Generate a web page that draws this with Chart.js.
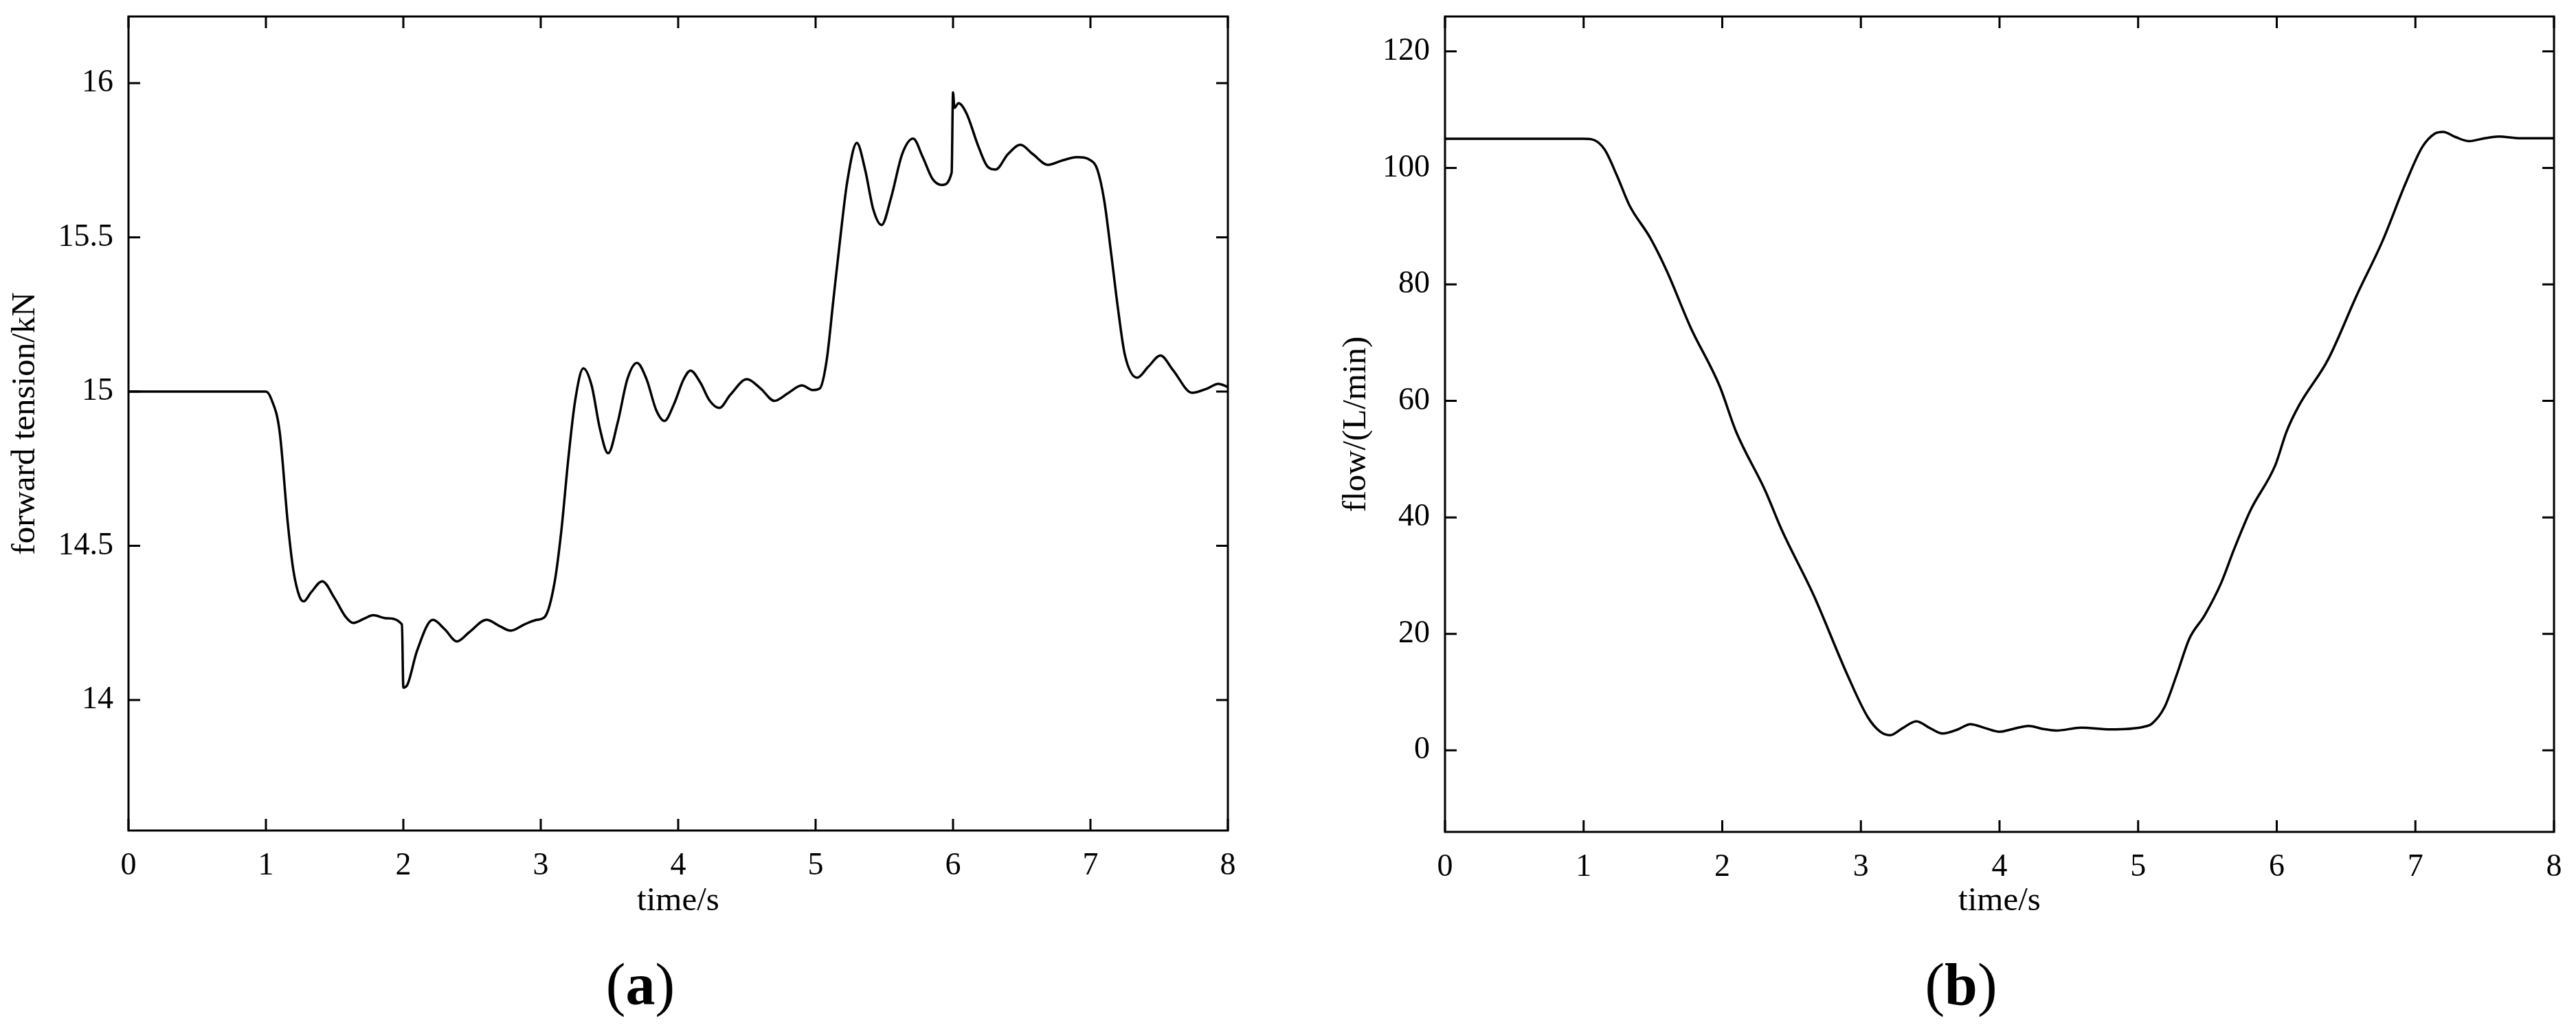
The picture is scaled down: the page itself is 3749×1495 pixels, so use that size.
<!DOCTYPE html>
<html>
<head>
<meta charset="utf-8">
<script src="https://cdn.jsdelivr.net/npm/chart.js@4.4.1/dist/chart.umd.min.js"></script>
<style>
  html, body { margin: 0; padding: 0; background: #fff; }
  body { width: 3749px; height: 1495px; position: relative; overflow: hidden; }
  canvas { position: absolute; top: 0; }
  #chartA { left: 0; }
  #chartB { left: 1875px; }
</style>
</head>
<body>
<canvas id="chartA" width="1875" height="1495"></canvas>
<canvas id="chartB" width="1874" height="1495"></canvas>
<script>
// (a) forward tension
const timeA = [0, 0.5, 1.0, 1.04, 1.10, 1.16, 1.20, 1.245, 1.275, 1.33, 1.41, 1.50, 1.58, 1.635,
  1.72, 1.78, 1.88, 1.99, 2.0, 2.03, 2.10, 2.215, 2.30, 2.39, 2.48, 2.605, 2.70, 2.78, 2.88,
  2.97, 3.03, 3.10, 3.15, 3.20, 3.25, 3.31, 3.37, 3.43, 3.49, 3.56, 3.63, 3.70, 3.77, 3.84,
  3.90, 3.97, 4.04, 4.09, 4.16, 4.23, 4.30, 4.38, 4.50, 4.60, 4.70, 4.80, 4.90, 4.98, 5.03,
  5.08, 5.13, 5.18, 5.23, 5.30, 5.36, 5.42, 5.48, 5.55, 5.63, 5.71, 5.78, 5.85, 5.92, 5.99,
  6.0, 6.01, 6.04, 6.10, 6.18, 6.25, 6.31, 6.40, 6.49, 6.58, 6.69, 6.80, 6.90, 7.00, 7.05,
  7.10, 7.15, 7.20, 7.25, 7.34, 7.42, 7.51, 7.60, 7.74, 7.85, 7.93, 8.0];
const tensionA = [15.0, 15.0, 15.0, 14.975, 14.87, 14.57, 14.42, 14.335, 14.32, 14.35, 14.385, 14.33, 14.27, 14.25,
  14.265, 14.275, 14.265, 14.245, 14.04, 14.05, 14.16, 14.26, 14.23, 14.19, 14.22, 14.26, 14.24, 14.225, 14.245,
  14.26, 14.27, 14.38, 14.55, 14.78, 14.97, 15.075, 15.02, 14.88, 14.80, 14.90, 15.04, 15.093, 15.04, 14.94,
  14.905, 14.96, 15.04, 15.068, 15.03, 14.97, 14.947, 14.99, 15.04, 15.01, 14.97, 14.995, 15.02, 15.005, 15.01,
  15.10, 15.30, 15.50, 15.68, 15.806, 15.72, 15.59, 15.54, 15.63, 15.77, 15.82, 15.76, 15.69, 15.67, 15.71,
  15.97, 15.92, 15.935, 15.90, 15.80, 15.73, 15.72, 15.77, 15.80, 15.77, 15.735, 15.75, 15.76, 15.75, 15.72,
  15.62, 15.45, 15.27, 15.12, 15.045, 15.08, 15.117, 15.07, 14.996, 15.01, 15.025, 15.015];

// (b) flow
const timeB = [0, 0.5, 1.0, 1.06, 1.15, 1.24, 1.33, 1.48, 1.60, 1.77, 1.98, 2.10, 2.31, 2.43, 2.66,
  2.90, 3.05, 3.14, 3.21, 3.30, 3.40, 3.50, 3.59, 3.70, 3.79, 3.90, 4.00, 4.10, 4.21, 4.31,
  4.41, 4.59, 4.80, 5.04, 5.10, 5.19, 5.28, 5.37, 5.48, 5.60, 5.69, 5.81, 5.99, 6.07, 6.16,
  6.37, 6.58, 6.76, 6.93, 7.05, 7.14, 7.20, 7.29, 7.385, 7.50, 7.60, 7.76, 8.0];
const flowB = [105, 105, 105, 104.9, 103.2, 98.7, 93.6, 88, 82.3, 72.7, 62.6, 54.7, 44.6, 37.8, 26.6,
  13.1, 5.7, 3.2, 2.6, 3.8, 5.0, 3.8, 2.9, 3.6, 4.5, 3.8, 3.2, 3.7, 4.2, 3.7,
  3.4, 3.9, 3.6, 4.05, 4.6, 7.4, 13.1, 19.2, 23.2, 28.8, 34.4, 41.2, 49.0, 54.7, 59.2,
  67.1, 78.3, 87.3, 97.4, 103.6, 105.9, 106.2, 105.3, 104.6, 105.1, 105.4, 105.1, 105.1];

const tensionTicks = [14, 14.5, 15, 15.5, 16];
const flowTicks = [0, 20, 40, 60, 80, 100, 120];

Chart.defaults.font.family = "'Liberation Serif', 'Times New Roman', serif";
Chart.defaults.color = '#000';

const TICK_LEN = 17;

// box frame, inward ticks on all sides, and the (a)/(b) caption
const framePlugin = {
  id: 'frame',
  afterDraw(chart, args, opts) {
    const { ctx, chartArea: a, scales: { x, y } } = chart;
    ctx.save();
    ctx.strokeStyle = '#000';
    ctx.lineWidth = 3;
    ctx.strokeRect(a.left, a.top, a.right - a.left, a.bottom - a.top);
    ctx.beginPath();
    x.ticks.forEach(t => {
      const px = x.getPixelForValue(t.value);
      ctx.moveTo(px, a.bottom); ctx.lineTo(px, a.bottom - TICK_LEN);
      ctx.moveTo(px, a.top); ctx.lineTo(px, a.top + TICK_LEN);
    });
    y.ticks.forEach(t => {
      const py = y.getPixelForValue(t.value);
      ctx.moveTo(a.left, py); ctx.lineTo(a.left + TICK_LEN, py);
      ctx.moveTo(a.right, py); ctx.lineTo(a.right - TICK_LEN, py);
    });
    ctx.stroke();

    // caption like "(a)" with a bold letter
    const size = 86;
    const fam = Chart.defaults.font.family;
    const parts = [['(', 'normal'], [opts.letter, 'bold'], [')', 'normal']];
    let total = 0;
    parts.forEach(p => { ctx.font = p[1] + ' ' + size + 'px ' + fam; p.push(ctx.measureText(p[0]).width); total += p[2]; });
    let cx = opts.cx - total / 2;
    ctx.fillStyle = '#000';
    ctx.textBaseline = 'alphabetic';
    parts.forEach(p => { ctx.font = p[1] + ' ' + size + 'px ' + fam; ctx.fillText(p[0], cx, opts.cy); cx += p[2]; });
    ctx.restore();
  }
};

function makeChart(id, xs, ys, cfg) {
  const points = xs.map((t, i) => ({ x: t, y: ys[i] }));
  return new Chart(document.getElementById(id), {
    type: 'line',
    data: {
      datasets: [{
        data: points,
        borderColor: '#000',
        borderWidth: 3.5,
        pointRadius: 0,
        fill: false,
        cubicInterpolationMode: 'monotone'
      }]
    },
    options: {
      responsive: false,
      animation: false,
      events: [],
      layout: { padding: { left: 0, top: cfg.top, right: cfg.padRight, bottom: 0 } },
      plugins: {
        legend: { display: false },
        tooltip: { enabled: false },
        frame: { letter: cfg.letter, cx: cfg.capX, cy: 1462 }
      },
      scales: {
        x: {
          type: 'linear',
          min: 0,
          max: 8,
          grid: { display: false, drawTicks: false },
          border: { display: false },
          ticks: { stepSize: 1, padding: 24, font: { size: 46 }, color: '#000' },
          title: { display: true, text: 'time/s', font: { size: 49 }, color: '#000', padding: { top: 0, bottom: 153 } },
          afterFit(scale) {
            scale.height = 1495 - cfg.bottom;
            scale.paddingLeft = 0; scale.paddingRight = 0;
          }
        },
        y: {
          type: 'linear',
          min: cfg.yMin,
          max: cfg.yMax,
          grid: { display: false, drawTicks: false },
          border: { display: false },
          afterBuildTicks(scale) { scale.ticks = cfg.ticks.map(v => ({ value: v })); },
          ticks: { padding: 22, font: { size: 46 }, color: '#000', callback: v => String(v) },
          title: { display: true, text: cfg.yTitle, font: { size: 49 }, color: '#000', padding: { top: cfg.titlePad, bottom: 0 } },
          afterFit(scale) {
            scale.width = cfg.yWidth;
            scale.paddingTop = 0; scale.paddingBottom = 0;
          }
        }
      }
    },
    plugins: [framePlugin]
  });
}

makeChart('chartA', timeA, tensionA, {
  letter: 'a', capX: 932, top: 24, padRight: 88, bottom: 1209, yWidth: 187,
  yMin: 13.577, yMax: 16.216, ticks: tensionTicks,
  yTitle: 'forward tension/kN', titlePad: 8
});

makeChart('chartB', timeB, flowB, {
  letter: 'b', capX: 979, top: 24, padRight: 32, bottom: 1211, yWidth: 228,
  yMin: -14, yMax: 126, ticks: flowTicks,
  yTitle: 'flow/(L/min)', titlePad: 70
});
</script>
</body>
</html>
